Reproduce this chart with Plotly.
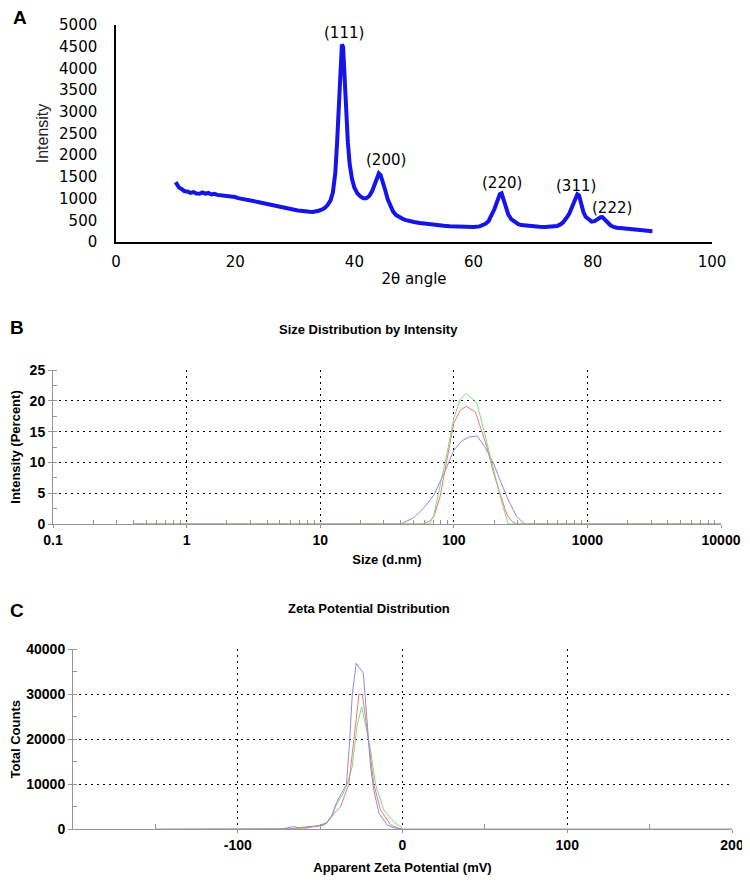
import plotly.graph_objects as go

# ---------------- Panel A: XRD ----------------
xrd_2theta = [10.0, 10.3, 10.6, 11.0, 11.5, 12.0, 12.5, 13.0, 13.5, 14.0, 14.5, 15.0, 15.5, 16.0, 16.5,
              17.0, 17.5, 18.0, 18.5, 19.0, 19.5, 20.0, 20.5, 21.0, 21.5, 22.0, 22.5, 23.0, 23.5, 24.0,
              24.5, 25.0, 25.5, 26.0, 26.5, 27.0, 27.5, 28.0, 28.5, 29.0, 29.5, 30.0, 30.5, 31.0, 31.5,
              32.0, 32.5, 33.0, 33.5, 34.0, 34.5, 35.0, 35.5, 36.0, 36.4, 36.8, 37.1, 37.4, 37.7, 37.9,
              38.1, 38.3, 38.6, 38.9, 39.2, 39.6, 40.0, 40.5, 41.0, 41.5, 42.0, 42.5, 43.0, 43.5, 43.8,
              44.1, 44.4, 44.8, 45.2, 45.6, 46.0, 46.5, 47.0, 47.5, 48.0, 48.5, 49.0, 49.5, 50.0, 51.0,
              52.0, 53.0, 54.0, 55.0, 56.0, 57.0, 58.0, 59.0, 60.0, 61.0, 62.0, 62.5, 63.0, 63.5, 64.0,
              64.4, 64.7, 65.0, 65.4, 65.8, 66.3, 67.0, 67.5, 68.0, 69.0, 70.0, 71.0, 72.0, 73.0, 74.0,
              74.5, 75.0, 75.5, 76.0, 76.5, 77.0, 77.4, 77.7, 78.0, 78.4, 78.8, 79.3, 79.8, 80.3, 80.8,
              81.3, 81.6, 82.0, 82.5, 83.0, 83.5, 84.0, 85.0, 86.0, 87.0, 88.0, 89.0, 90.0]
xrd_intensity = [1380, 1290, 1250, 1220, 1170, 1165, 1130, 1150, 1115, 1110, 1140, 1115, 1130, 1095, 1110,
                 1085, 1080, 1065, 1060, 1055, 1040, 1035, 1010, 1000, 985, 980, 960, 945, 930, 915,
                 900, 885, 870, 855, 840, 820, 805, 785, 770, 760, 745, 740, 725, 720, 705,
                 705, 695, 690, 700, 720, 745, 780, 850, 960, 1150, 1600, 2300, 3100, 4000, 4550,
                 4500, 3900, 3000, 2300, 1800, 1450, 1250, 1120, 1050, 1010, 1010, 1060, 1180, 1380, 1500,
                 1580, 1540, 1380, 1180, 980, 830, 700, 620, 570, 540, 510, 490, 470, 460, 440,
                 420, 400, 390, 375, 365, 355, 350, 345, 345, 360, 420, 480, 600, 760, 950,
                 1100, 1120, 980, 800, 640, 530, 450, 410, 390, 370, 355, 350, 345, 350, 370,
                 400, 450, 540, 640, 800, 960, 1100, 1070, 880, 700, 580, 510, 470, 480, 530,
                 570, 575, 520, 440, 380, 350, 330, 315, 300, 285, 270, 260, 250]
xrd_x_ticks = [0, 20, 40, 60, 80, 100]
xrd_y_ticks = [0, 500, 1000, 1500, 2000, 2500, 3000, 3500, 4000, 4500, 5000]
peak_labels = ["(111)", "(200)", "(220)", "(311)", "(222)"]
peak_2theta = [37.9, 44.1, 64.7, 77.4, 81.6]
peak_intensity = [4550, 1580, 1120, 1100, 575]

# ---------------- Panel B: size distribution ----------------
size_blue = [0.4, 40, 50, 59, 71, 89, 100, 115, 129, 149, 170, 198, 225, 256, 296, 340, 10000]
int_blue = [0, 0, 1.0, 2.5, 4.7, 9.3, 12.0, 13.5, 14.1, 14.3, 12.6, 9.9, 6.8, 3.9, 1.2, 0, 0]
size_red = [0.4, 59, 66, 71, 79, 87, 100, 112, 124, 145, 160, 177, 200, 225, 250, 272, 297, 10000]
int_red = [0, 0, 0.5, 1.2, 4.5, 9.3, 16.4, 18.5, 19.1, 18.2, 15.5, 12.5, 8.0, 4.4, 1.5, 0.4, 0, 0]
size_green = [0.4, 66, 71, 80, 90, 100, 112, 124, 135, 149, 162, 177, 193, 211, 232, 256, 10000]
int_green = [0, 0, 1.5, 6.6, 12.0, 17.2, 20.3, 21.2, 20.5, 19.6, 16.5, 13.1, 9.8, 6.6, 3.0, 0, 0]
size_tickvals = [0.1, 1, 10, 100, 1000, 10000]
size_ticktext = ["0.1", "1", "10", "100", "1000", "10000"]

# ---------------- Panel C: zeta potential ----------------
zeta_blue = [-150, -72, -68, -64, -60, -56, -52, -48, -46, -43, -40, -36, -34, -32, -30.5, -28.1,
             -23.8, -21.5, -19.4, -17.4, -14.3, -9.3, -5, 0, 200]
cnt_blue = [0, 0, 100, 300, 500, 650, 700, 900, 1500, 3000, 6000, 8500, 10000, 20000, 30000, 36900,
            34700, 24000, 13900, 8700, 3550, 950, 300, 0, 0]
zeta_red = [-150, -75, -70, -66, -63, -58, -54, -50, -46, -41.6, -37.6, -32.6, -29.5, -26.4, -24.4,
            -21.4, -17.4, -13.3, -7.3, -3, 0, 200]
cnt_red = [0, 0, 300, 600, 350, 250, 600, 900, 1500, 3500, 5000, 10000, 20000, 30000, 30000,
           22000, 10000, 4300, 1000, 300, 0, 0]
zeta_green = [-150, -70, -65, -60, -55, -50, -46, -43, -40, -36, -33.6, -30.5, -27.7, -24.8, -22.3,
              -19.4, -16.4, -11.3, -5.3, -0.7, 0, 200]
cnt_green = [0, 0, 100, 300, 500, 800, 1300, 2800, 5500, 8000, 10000, 13900, 22800, 27200, 23000,
             17600, 10000, 4300, 1600, 500, 0, 0]
zeta_tickvals = [-100, 0, 100, 200]
zeta_ticktext = ["-100", "0", "100", "200"]
zeta_minor = [-150, -50, 50, 150]

BLUE = "rgb(140,140,225)"
RED = "rgb(238,120,120)"
GREEN = "rgb(125,220,125)"
GRAY = "rgb(150,150,150)"
OFF = 8                 # page body margin of the browser
W, H = 750 - OFF, 887 - OFF


def fx(px):
    return (px - OFF) / W


def fy(py):
    return 1 - (py - OFF) / H


fig = go.Figure()
fig.add_trace(go.Scatter(x=xrd_2theta, y=xrd_intensity, mode="lines",
                         line=dict(color="rgb(20,20,235)", width=4), xaxis="x", yaxis="y",
                         showlegend=False))
for xs, ys, c in [(size_blue, int_blue, BLUE), (size_red, int_red, RED), (size_green, int_green, GREEN)]:
    fig.add_trace(go.Scatter(x=xs, y=ys, mode="lines", line=dict(color=c, width=1),
                             xaxis="x2", yaxis="y2", showlegend=False))
for xs, ys, c in [(zeta_green, cnt_green, GREEN), (zeta_red, cnt_red, RED), (zeta_blue, cnt_blue, BLUE)]:
    fig.add_trace(go.Scatter(x=xs, y=ys, mode="lines", line=dict(color=c, width=1),
                             xaxis="x3", yaxis="y3", showlegend=False))

fontA = dict(family="DejaVu Sans", size=15, color="black")
fontB = dict(family="Liberation Sans, Arial", size=14, color="black", weight="bold")
titleB = dict(family="Liberation Sans, Arial", size=13, color="black", weight="bold")
dot = "2px,4px"

fig.update_layout(
    width=W, height=H, margin=dict(l=0, r=0, t=0, b=0, autoexpand=False),
    paper_bgcolor="white", plot_bgcolor="white",
    xaxis=dict(domain=[fx(116), fx(712)], range=[0, 100], anchor="y", automargin=False,
               tickvals=xrd_x_ticks, showgrid=False, zeroline=False,
               showline=True, linecolor="black", linewidth=1.5,
               ticks="outside", ticklen=5, tickcolor="rgba(0,0,0,0)", tickfont=fontA,
               title=dict(text="2θ angle", font=fontA, standoff=4)),
    yaxis=dict(domain=[fy(242), fy(25)], range=[0, 5000], anchor="x", automargin=False,
               tickvals=xrd_y_ticks, showgrid=False, zeroline=False,
               showline=True, linecolor="black", linewidth=1.5,
               ticks="outside", ticklen=14, tickcolor="rgba(0,0,0,0)", tickfont=fontA,
               title=dict(text="Intensity", standoff=6,
                          font=dict(family="Liberation Sans Narrow, Arial Narrow, sans-serif", size=16,
                                    color="#222"))),
    xaxis2=dict(domain=[fx(53), fx(721)], type="log", range=[-1, 4], anchor="y2", automargin=False,
                tickvals=size_tickvals, ticktext=size_ticktext, tickfont=fontB,
                showgrid=True, gridcolor="black", griddash=dot, gridwidth=1, zeroline=False,
                showline=True, linecolor=GRAY, linewidth=1,
                ticks="outside", ticklen=3, tickcolor=GRAY,
                minor=dict(tickvals=[m * 10 ** e for e in range(-1, 4) for m in range(2, 10)],
                           ticks="inside", ticklen=4, tickcolor=GRAY, showgrid=False),
                title=dict(text="Size (d.nm)", font=titleB, standoff=8)),
    yaxis2=dict(domain=[fy(524), fy(370)], range=[0, 25], anchor="x2", automargin=False,
                dtick=5, tickfont=fontB,
                showgrid=True, gridcolor="black", griddash=dot, gridwidth=1, zeroline=False,
                showline=True, linecolor=GRAY, linewidth=1,
                ticks="outside", ticklen=4, tickcolor=GRAY,
                minor=dict(dtick=2.5, ticks="inside", ticklen=4, tickcolor=GRAY, showgrid=False),
                title=dict(text="Intensity (Percent)", font=titleB, standoff=9)),
    xaxis3=dict(domain=[fx(73), fx(732)], range=[-200, 200], anchor="y3", automargin=False,
                tickvals=zeta_tickvals, ticktext=zeta_ticktext, tickfont=fontB,
                showgrid=True, gridcolor="black", griddash=dot, gridwidth=1, zeroline=False,
                showline=True, linecolor=GRAY, linewidth=1,
                ticks="outside", ticklen=3, tickcolor=GRAY,
                minor=dict(tickvals=zeta_minor, ticks="inside", ticklen=5, tickcolor=GRAY, showgrid=False),
                title=dict(text="Apparent Zeta Potential (mV)", font=titleB, standoff=10)),
    yaxis3=dict(domain=[fy(829.3), fy(649.3)], range=[0, 40000], anchor="x3", automargin=False,
                dtick=10000, tickformat="d", tickfont=fontB,
                showgrid=True, gridcolor="black", griddash=dot, gridwidth=1, zeroline=False,
                showline=True, linecolor=GRAY, linewidth=1,
                ticks="outside", ticklen=4, tickcolor=GRAY,
                minor=dict(dtick=5000, ticks="inside", ticklen=4, tickcolor=GRAY, showgrid=False),
                title=dict(text="Total Counts", font=titleB, standoff=9)),
)

annotations = []
# panel letters
for letter, (lx, ly) in zip(["A", "B", "C"], [(20, 18), (17, 327), (17, 610)]):
    annotations.append(dict(text=letter, xref="paper", yref="paper", x=fx(lx), y=fy(ly),
                            xanchor="center", yanchor="middle", showarrow=False,
                            font=dict(family="Liberation Sans, Arial", size=19, color="black",
                                      weight="bold")))
# panel titles
annotations.append(dict(text="Size Distribution by Intensity", xref="paper", yref="paper",
                        x=fx(368), y=fy(329), xanchor="center", yanchor="middle",
                        showarrow=False, font=titleB))
annotations.append(dict(text="Zeta Potential Distribution", xref="paper", yref="paper",
                        x=fx(369), y=fy(608), xanchor="center", yanchor="middle",
                        showarrow=False, font=titleB))
# peak labels
label_shift = [(2, 12), (7, 13), (0, 10), (-1, 8), (10, 9)]
for t, px, py, (sx, sy) in zip(peak_labels, peak_2theta, peak_intensity, label_shift):
    annotations.append(dict(text=t, xref="x", yref="y", x=px, y=py, xanchor="center",
                            yanchor="middle", xshift=sx, yshift=sy, showarrow=False,
                            font=dict(family="DejaVu Sans", size=15, color="black")))
fig.update_layout(annotations=annotations)

fig.write_html("out.html")
